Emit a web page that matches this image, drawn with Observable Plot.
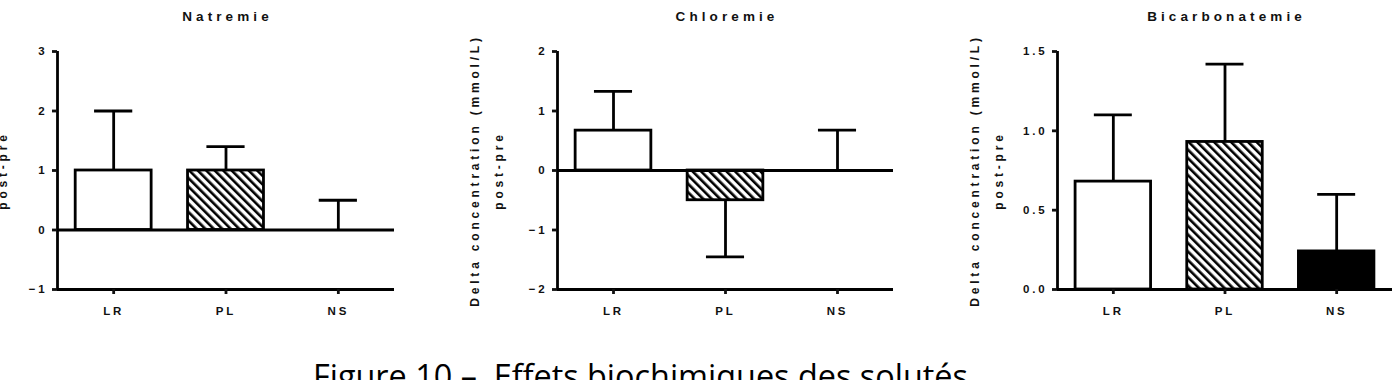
<!DOCTYPE html>
<html><head><meta charset="utf-8">
<script src="https://cdn.jsdelivr.net/npm/d3@7"></script>
<script src="https://cdn.jsdelivr.net/npm/@observablehq/plot@0.6"></script>
<style>
html,body{margin:0;padding:0;background:#fff;}
#wrap{position:relative;width:1396px;height:380px;overflow:hidden;background:#fff;}
.panel{position:absolute;top:0;}
.title{position:absolute;top:9px;transform:translateX(-50%);font-family:"Liberation Sans",Arial,sans-serif;font-weight:bold;font-size:13.5px;letter-spacing:4.1px;white-space:nowrap;color:#111;}
#caption{position:absolute;left:313px;top:359px;font-family:"Open Sans";font-size:32.4px;line-height:1;white-space:pre;color:#000;}
</style></head><body>
<div id="wrap"><div id="caption">Figure 10 –  Effets biochimiques des solutés</div></div>
<script>
const categories = ["LR", "PL", "NS"];

const natremieMean = [1.0, 1.0, 0.0];
const natremieSD = [1.0, 0.4, 0.5];
const natremieTicks = [-1, 0, 1, 2, 3];

const chloremieMean = [0.67, -0.5, 0.0];
const chloremieSD = [0.66, 0.95, 0.68];
const chloremieTicks = [-2, -1, 0, 1, 2];

const bicarbMean = [0.68, 0.93, 0.24];
const bicarbSD = [0.42, 0.49, 0.36];
const bicarbTicks = [0.0, 0.5, 1.0, 1.5];

const titles = ["Natremie", "Chloremie", "Bicarbonatemie"];
const yLabel1 = "Delta concentration (mmol/L)";
const yLabel2 = "post-pre";
const caption = "Figure 10 –  Effets biochimiques des solutés";

const wrap = document.getElementById("wrap");
const LW = 2.8;

function panel({id, title, mean, sd, ticks, fmt, left, marginLeft, frameW, marginRight, lab1dx, lab2dx}) {
  const data = categories.map((c, i) => ({i, cat: c, v: mean[i], e: mean[i] + (mean[i] < 0 ? -1 : 1) * sd[i]}));
  const hatchId = "hatch-" + id;
  const ymin = ticks[0], ymax = ticks[ticks.length - 1];
  const rectOpts = fill => ({x1: d => d.i - 0.338, x2: d => d.i + 0.338, y1: 0, y2: "v", fill, stroke: "black", strokeWidth: LW});
  const plot = Plot.plot({
    width: marginLeft + frameW + marginRight,
    height: 329,
    marginLeft, marginRight, marginTop: 51, marginBottom: 40,
    x: {domain: [-0.5, 2.5]},
    y: {domain: [ymin, ymax]},
    style: {fontFamily: "'Liberation Sans', Arial, sans-serif", fontSize: "11.5px", fontWeight: "bold", letterSpacing: "2.8px", color: "#111", background: "transparent"},
    marks: [
      Plot.rect(data.filter(d => d.cat === "LR"), rectOpts("white")),
      Plot.rect(data.filter(d => d.cat === "PL"), rectOpts(`url(#${hatchId})`)),
      Plot.rect(data.filter(d => d.cat === "NS"), rectOpts("black")),
      Plot.ruleX(data, {x: "i", y1: "v", y2: "e", stroke: "black", strokeWidth: LW}),
      Plot.ruleY(data, {y: "e", x1: d => d.i - 0.17, x2: d => d.i + 0.17, stroke: "black", strokeWidth: LW}),
      Plot.ruleY([0], {stroke: "black", strokeWidth: LW}),
      Plot.ruleY([ymin], {stroke: "black", strokeWidth: LW}),
      Plot.ruleX([-0.5], {stroke: "black", strokeWidth: LW}),
      Plot.axisY({ticks, tickFormat: fmt, tickSize: 5, tickPadding: 5, strokeWidth: LW, label: null, fontSize: 11.5}),
      Plot.axisX({ticks: [0, 1, 2], tickFormat: i => categories[i], tickSize: 5, tickPadding: 12, strokeWidth: LW, label: null, fontSize: 11.5}),
      Plot.text([yLabel1], {frameAnchor: "left", textAnchor: "middle", rotate: -90, dx: lab1dx, text: d => d, fontSize: 12, fill: "#111"}),
      Plot.text([yLabel2], {frameAnchor: "left", textAnchor: "middle", rotate: -90, dx: lab2dx, text: d => d, fontSize: 12, fill: "#111"})
    ]
  });
  const svg = d3.select(plot);
  svg.selectAll("text").filter(function() { return this.textContent === yLabel1 || this.textContent === yLabel2; })
    .style("letter-spacing", "3.8px");
  const pat = svg.insert("defs", ":first-child").append("pattern")
    .attr("id", hatchId).attr("patternUnits", "userSpaceOnUse")
    .attr("width", 6).attr("height", 6).attr("patternTransform", "rotate(-45)");
  pat.append("rect").attr("width", 6).attr("height", 6).attr("fill", "white");
  pat.append("rect").attr("x", 0).attr("width", 2.6).attr("height", 6).attr("fill", "black");
  const div = document.createElement("div");
  div.className = "panel";
  div.style.left = left + "px";
  div.appendChild(plot);
  wrap.appendChild(div);
  const t = document.createElement("div");
  t.className = "title";
  t.textContent = title;
  t.style.left = (left + marginLeft + frameW / 2 + 2) + "px";
  wrap.appendChild(t);
}

panel({id: 1, title: titles[0], mean: natremieMean, sd: natremieSD, ticks: natremieTicks, fmt: d3.format("d"),
  left: 0, marginLeft: 57, frameW: 337, marginRight: 6, lab1dx: -80, lab2dx: -54});
panel({id: 2, title: titles[1], mean: chloremieMean, sd: chloremieSD, ticks: chloremieTicks, fmt: d3.format("d"),
  left: 460, marginLeft: 97, frameW: 336, marginRight: 6, lab1dx: -82, lab2dx: -58});
panel({id: 3, title: titles[2], mean: bicarbMean, sd: bicarbSD, ticks: bicarbTicks, fmt: d3.format(".1f"),
  left: 960, marginLeft: 97, frameW: 335, marginRight: 4, lab1dx: -82, lab2dx: -58});

document.getElementById("caption").textContent = caption;
</script>
</body></html>
